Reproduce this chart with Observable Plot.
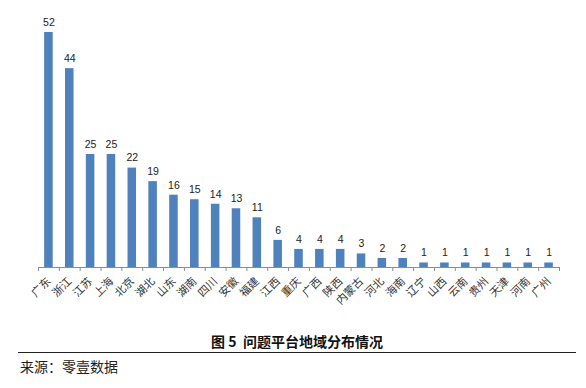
<!DOCTYPE html>
<html>
<head>
<meta charset="utf-8">
<script src="https://cdn.jsdelivr.net/npm/d3@7"></script>
<script src="https://cdn.jsdelivr.net/npm/@observablehq/plot@0.6"></script>
<style>
  body { margin: 0; background: #fff; }
  #wrap { position: relative; width: 586px; height: 388px; overflow: hidden; }
  #chart { position: absolute; left: 0; top: 0; }
  #title { position: absolute; left: 0; width: 594px; top: 331px; text-align: center;
           font-family: "Noto Sans CJK SC", sans-serif; font-weight: bold; font-size: 14px; color: #111; }
  #rule { position: absolute; left: 18px; width: 558px; top: 352px; height: 0; border-top: 1.5px solid #222; }
  #source { position: absolute; left: 20px; top: 356px; font-family: "Noto Sans CJK SC", sans-serif;
            font-size: 14px; color: #222; }
</style>
</head>
<body>
<div id="wrap">
  <div id="chart"></div>
  <div id="title">图 5&nbsp; 问题平台地域分布情况</div>
  <div id="rule"></div>
  <div id="source">来源：零壹数据</div>
</div>
<script>
const regions = ["广东","浙江","江苏","上海","北京","湖北","山东","湖南","四川","安徽","福建","江西","重庆","广西","陕西","内蒙古","河北","海南","辽宁","山西","云南","贵州","天津","河南","广州"];
const counts = [52,44,25,25,22,19,16,15,14,13,11,6,4,4,4,3,2,2,1,1,1,1,1,1,1];

const data = regions.map((r, i) => ({region: r, count: counts[i]}));
const step = (586 - 38 - 27) / regions.length;

const chart = Plot.plot({
  width: 586,
  height: 320,
  marginTop: 32,
  marginBottom: 53,
  marginLeft: 38,
  marginRight: 27,
  style: {fontFamily: "Noto Sans CJK SC, sans-serif", background: "white"},
  x: {domain: regions, paddingInner: 0.59, paddingOuter: 0.295, round: false, label: null},
  y: {domain: [0, 52], axis: null},
  marks: [
    Plot.barY(data, {x: "region", y: "count", fill: "#4F81BD"}),
    Plot.text(data, {x: "region", y: "count", text: d => String(d.count), dy: -10,
      fontSize: 10.5, fill: "#222", fontFamily: "Liberation Sans, sans-serif"}),
    Plot.ruleY([0], {stroke: "#8c8c8c", strokeWidth: 1}),
    Plot.ruleX(data, {x: "region", y1: 0, y2: 0, insetBottom: -4, dx: -step / 2, stroke: "#8c8c8c"}),
    Plot.ruleX(data.slice(-1), {x: "region", y1: 0, y2: 0, insetBottom: -4, dx: step / 2, stroke: "#8c8c8c"}),
    Plot.axisX({tickSize: 0, tickRotate: -45, tickPadding: 12, fontSize: 11, fill: "#333", label: null})
  ]
});
document.getElementById("chart").appendChild(chart);
</script>
</body>
</html>
